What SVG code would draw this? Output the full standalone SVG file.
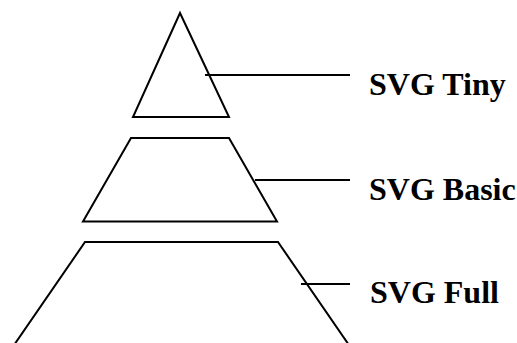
<svg xmlns="http://www.w3.org/2000/svg" width="517" height="343" viewBox="0 0 517 343">
<style>
.shape{fill:none;stroke:#000;stroke-width:2;stroke-linejoin:miter}
.conn{stroke:#000;stroke-width:2;fill:none}
.lbl{font-family:"Liberation Serif","Times New Roman",serif;font-weight:bold;font-size:32px;fill:#000}
</style>
<rect width="517" height="343" fill="#fff"/>
<g id="tiny">
<polygon class="shape" points="180,13 133,117 229,117"/>
<text class="lbl" x="369" y="95">SVG Tiny</text>
</g>
<g id="basic">
<polygon class="shape" points="131,138 229,138 277,221.5 83,221.5"/>
<text class="lbl" x="369" y="199.5">SVG Basic</text>
</g>
<g id="full">
<polyline class="shape" points="12,348 85,242 278,242 351,348"/>
<text class="lbl" x="370" y="303">SVG Full</text>
</g>
<g id="connectors">
<line class="conn" x1="205" y1="75" x2="350" y2="75"/>
<line class="conn" x1="255" y1="180" x2="350" y2="180"/>
<line class="conn" x1="301" y1="284" x2="350" y2="284"/>
</g>
</svg>
